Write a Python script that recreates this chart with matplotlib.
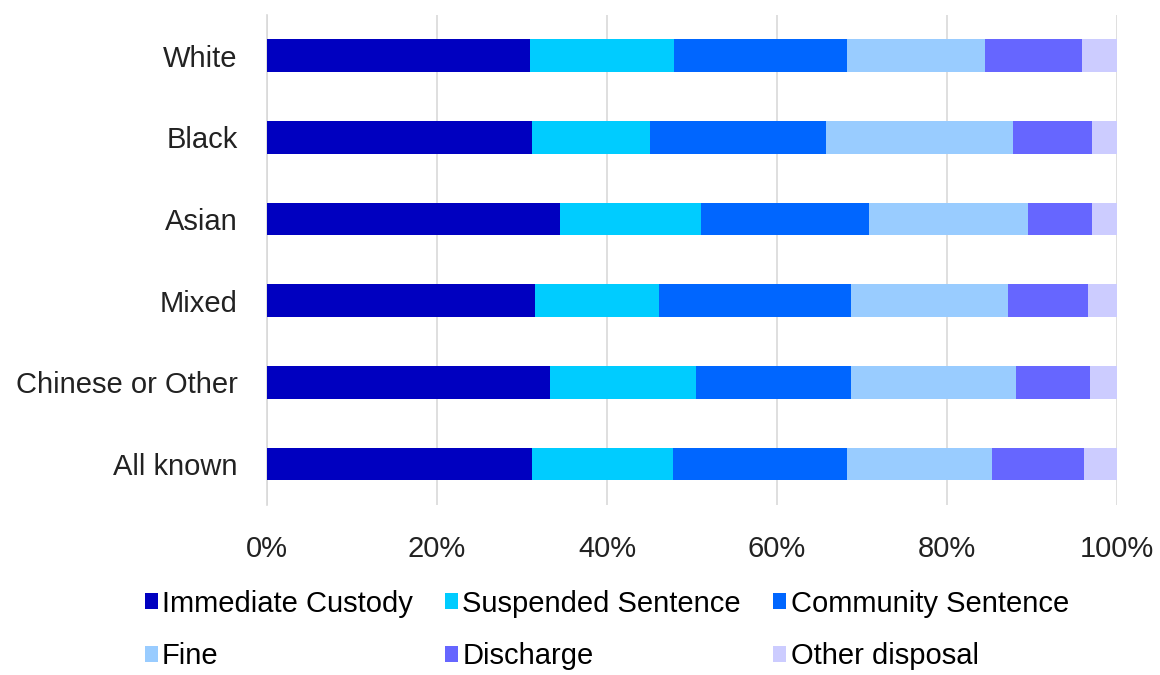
import numpy as np
import matplotlib
matplotlib.use('Agg')
from matplotlib import pyplot as plt
from matplotlib.patches import Patch

plt.rcParams['font.family'] = ['Liberation Sans', 'DejaVu Sans']

groups = ['White', 'Black', 'Asian', 'Mixed', 'Chinese or Other', 'All known']

custody = [30.9, 31.2, 34.5, 31.5, 33.3, 31.2]
suspended = [17.0, 13.9, 16.6, 14.6, 17.2, 16.6]
community = [20.3, 20.6, 19.7, 22.6, 18.2, 20.4]
fine = [16.3, 22.1, 18.7, 18.5, 19.4, 17.1]
discharge = [11.4, 9.2, 7.5, 9.4, 8.7, 10.8]
other = [4.1, 3.0, 3.0, 3.4, 3.2, 3.9]

series = {
    'Immediate Custody': custody,
    'Suspended Sentence': suspended,
    'Community Sentence': community,
    'Fine': fine,
    'Discharge': discharge,
    'Other disposal': other,
}
colors = ['#0000c0', '#00ccff', '#0066ff', '#99ccff', '#6666ff', '#ccccff']

fig = plt.figure(figsize=(11.6, 6.75), dpi=100)
ax = fig.add_axes([0.2302, 0.252, 0.7328, 0.726])

y = np.arange(len(groups))
left = np.zeros(len(groups))
handles = []
for (name, vals), col in zip(series.items(), colors):
    vals = np.array(vals)
    ax.barh(y, vals, left=left, height=0.4, color=col, zorder=3)
    left += vals
    handles.append(Patch(facecolor=col, label=name))

ax.set_xlim(0, 100)
ax.set_ylim(-0.5, len(groups) - 0.5)
ax.invert_yaxis()
ax.set_yticks(y, groups)
ax.set_xticks(np.arange(0, 101, 20), [f'{v}%' for v in range(0, 101, 20)])
ax.tick_params(axis='both', length=0, labelsize=21, colors='#222222')
ax.tick_params(axis='x', pad=22)
ax.tick_params(axis='y', pad=21)

ax.grid(True, axis='x', color='#d9d9d9', linewidth=1.2)
ax.set_axisbelow(True)
for s in ['top', 'right', 'bottom']:
    ax.spines[s].set_visible(False)
ax.spines['left'].set_color('#d9d9d9')
ax.spines['left'].set_linewidth(1.2)

# legend fills column by column, so reorder to read row-wise
order = [0, 3, 1, 4, 2, 5]
fig.legend(handles=[handles[i] for i in order], loc='upper left', bbox_to_anchor=(0.112, 0.148),
           ncol=3, frameon=False, fontsize=21, handlelength=0.45, handleheight=0.45,
           handletextpad=0.15, columnspacing=1.1, labelspacing=0.85, borderpad=0)

plt.savefig('out.png', dpi=100)
